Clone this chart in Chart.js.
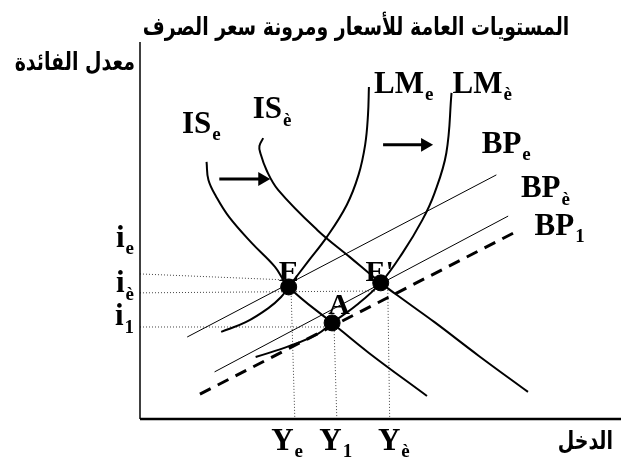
<!DOCTYPE html>
<html>
<head>
<meta charset="utf-8">
<script src="https://cdn.jsdelivr.net/npm/chart.js@4"></script>
<style>body{margin:0;background:#fff}</style>
</head>
<body>
<canvas id="chart" width="621" height="458"></canvas>
<script>
// units: x = income (0-100), y = interest rate (0-100)
const isEX = [14.1, 14.5, 16.2, 18.9, 23.7, 28.6, 31.5, 40.7, 48.5, 60.8];
const isEY = [69.3, 64.4, 59.8, 54.4, 47.4, 41.0, 35.6, 25.9, 17.8, 6.2];

const isPX = [26.1, 25.3, 25.5, 26.8, 29.3, 37.6, 44.4, 51.0, 56.2, 62.4, 71.8, 82.2];
const isPY = [75.7, 73.6, 71.7, 67.1, 61.7, 50.9, 43.7, 36.7, 31.8, 26.1, 17.0, 7.3];

const lmEX = [17.2, 22.4, 27.2, 29.9, 31.5, 35.5, 39.6, 43.8, 46.3, 47.7, 48.3, 48.5];
const lmEY = [23.5, 26.1, 29.9, 32.9, 35.6, 42.3, 49.1, 57.7, 65.8, 73.9, 81.9, 89.5];

const lmPX = [24.5, 31.7, 37.6, 40.7, 45.9, 51.0, 55.6, 59.8, 62.4, 64.9, 66.0];
const lmPY = [16.7, 19.7, 22.9, 25.9, 30.7, 36.7, 44.7, 53.6, 60.9, 71.7, 87.9];

// BP lines (two end points each)
const bpEX = [10.0, 75.5];
const bpEY = [22.1, 65.8];
const bpPX = [15.8, 78.0];
const bpPY = [12.7, 54.7];
const bp1X = [12.7, 80.3];
const bp1Y = [6.7, 50.9];

// equilibrium points E, A, E'
const eqNames = ['E', 'A', "E'"];
const eqX = [31.5, 40.7, 51.0];
const eqY = [35.6, 25.9, 36.7];

// dotted guides to the axes
const iLevelY0 = [39.1, 34.0, 24.8];
const iLevelY1 = [37.5, 34.5, 24.8];
const iLevelX1 = [30.7, 50.0, 40.2];
const yLevelX0 = [32.0, 41.1, 52.5];
const yLevelX1 = [32.8, 41.7, 52.9];
const yLevelTop = [34.8, 25.3, 34.8];

// shift arrows
const arrow1X = [16.8, 25.9];
const arrow1Y = [64.7, 64.7];
const arrow2X = [51.5, 60.4];
const arrow2Y = [73.9, 73.9];

// tick labels
const iTicks = [['i', 'e'], ['i', 'è'], ['i', '1']];
const iTickY = [46.4, 34.2, 25.3];
const yTicks = [['Y', 'e'], ['Y', '1'], ['Y', 'è']];
const yTickX = [27.8, 38.0, 50.4];

// curve labels
const curveNames = [['IS', 'e'], ['IS', 'è'], ['LM', 'e'], ['LM', 'è'], ['BP', 'e'], ['BP', 'è'], ['BP', '1']];
const curveLabX = [8.9, 23.9, 49.6, 66.2, 72.4, 80.7, 83.6];
const curveLabY = [77.1, 81.1, 87.9, 87.9, 71.7, 59.8, 49.6];

const titleText = 'المستويات العامة للأسعار ومرونة سعر الصرف';
const yAxisTitle = 'معدل الفائدة';
const xAxisTitle = 'الدخل';

function pts(xs, ys) {
  return xs.map((x, i) => ({ x: x, y: ys[i] }));
}

const curve = (data) => ({ data: data, borderColor: '#000', borderWidth: 2, pointRadius: 0, tension: 0.4, showLine: true, fill: false });
const thin = (data) => ({ data: data, borderColor: '#000', borderWidth: 1, pointRadius: 0, showLine: true, fill: false });
const dotted = (data) => ({ data: data, borderColor: '#444', borderWidth: 1, borderDash: [1, 2], pointRadius: 0, showLine: true, fill: false });
const arrow = (data) => ({
  data: data, borderColor: '#000', backgroundColor: '#000', borderWidth: 3, showLine: true,
  pointRadius: [0, 8], pointStyle: 'triangle', pointRotation: 90, pointBorderWidth: 0
});

const datasets = [
  { data: pts(eqX, eqY), backgroundColor: '#000', borderColor: '#000', pointRadius: 8, showLine: false },
  curve(pts(isEX, isEY)),
  curve(pts(isPX, isPY)),
  curve(pts(lmEX, lmEY)),
  curve(pts(lmPX, lmPY)),
  thin(pts(bpEX, bpEY)),
  thin(pts(bpPX, bpPY)),
  { data: pts(bp1X, bp1Y), borderColor: '#000', borderWidth: 3, borderDash: [12, 8], pointRadius: 0, showLine: true },
  arrow(pts(arrow1X, arrow1Y)),
  arrow(pts(arrow2X, arrow2Y))
];
for (let i = 0; i < 3; i++) {
  datasets.push(dotted([{ x: 0, y: iLevelY0[i] }, { x: iLevelX1[i], y: iLevelY1[i] }]));
  datasets.push(dotted([{ x: yLevelX0[i], y: yLevelTop[i] }, { x: yLevelX1[i], y: 0 }]));
}

const serif = '"Liberation Serif", "Times New Roman", serif';
const arabic = '"DejaVu Sans", sans-serif';
const LAB = 31;

function subText(ctx, main, sub, x, y, size) {
  ctx.textAlign = 'left';
  ctx.textBaseline = 'alphabetic';
  ctx.font = 'bold ' + size + 'px ' + serif;
  ctx.fillText(main, x, y);
  const w = ctx.measureText(main).width;
  ctx.font = 'bold ' + Math.round(size * 0.62) + 'px ' + serif;
  ctx.fillText(sub, x + w + 1, y + size * 0.24);
}

function subWidth(ctx, main, sub, size) {
  ctx.font = 'bold ' + size + 'px ' + serif;
  const w = ctx.measureText(main).width;
  ctx.font = 'bold ' + Math.round(size * 0.62) + 'px ' + serif;
  return w + 1 + ctx.measureText(sub).width;
}

// Arabic text, drawn a bit taller than DejaVu's natural shape
function arabicText(ctx, text, x, y, size, align) {
  ctx.save();
  ctx.font = 'bold ' + size + 'px ' + arabic;
  ctx.textAlign = align;
  ctx.textBaseline = 'alphabetic';
  ctx.translate(x, y);
  ctx.scale(1, 1.3);
  ctx.fillText(text, 0, 0);
  ctx.restore();
}

const textPlugin = {
  id: 'texts',
  beforeDatasetsDraw(chart) {
    // point letters sit behind the dots
    const ctx = chart.ctx, xs = chart.scales.x, ys = chart.scales.y;
    const offs = [[0, -6], [7, -9], [-1, -2]];
    ctx.save();
    ctx.fillStyle = '#000';
    ctx.font = 'bold 30px ' + serif;
    ctx.textAlign = 'center';
    ctx.textBaseline = 'alphabetic';
    eqNames.forEach((n, i) => {
      ctx.fillText(n, xs.getPixelForValue(eqX[i]) + offs[i][0], ys.getPixelForValue(eqY[i]) + offs[i][1]);
    });
    ctx.restore();
  },
  afterDraw(chart) {
    const ctx = chart.ctx, xs = chart.scales.x, ys = chart.scales.y, a = chart.chartArea;
    ctx.save();
    ctx.strokeStyle = '#000';
    ctx.fillStyle = '#000';
    // axes
    ctx.lineWidth = 1.5;
    ctx.beginPath();
    ctx.moveTo(a.left, a.top - 6);
    ctx.lineTo(a.left, a.bottom);
    ctx.stroke();
    ctx.lineWidth = 2.5;
    ctx.beginPath();
    ctx.moveTo(a.left, a.bottom);
    ctx.lineTo(chart.width, a.bottom);
    ctx.stroke();

    // title, fitted to the width it has in the original
    ctx.font = 'bold 20px ' + arabic;
    const tsize = Math.min(24, 20 * 427 / ctx.measureText(titleText).width);
    arabicText(ctx, titleText, 356, 35, tsize.toFixed(1), 'center');
    arabicText(ctx, yAxisTitle, a.left - 5, 70, 19, 'right');
    arabicText(ctx, xAxisTitle, chart.width - 8, 449, 19, 'right');

    // curve labels
    curveNames.forEach((c, i) => {
      subText(ctx, c[0], c[1], xs.getPixelForValue(curveLabX[i]), ys.getPixelForValue(curveLabY[i]), LAB);
    });
    // interest-rate tick labels
    iTicks.forEach((t, i) => {
      const w = subWidth(ctx, t[0], t[1], LAB);
      subText(ctx, t[0], t[1], a.left - 6 - w, ys.getPixelForValue(iTickY[i]), LAB);
    });
    // income tick labels
    yTicks.forEach((t, i) => {
      subText(ctx, t[0], t[1], xs.getPixelForValue(yTickX[i]), a.bottom + 31, LAB);
    });
    ctx.restore();
  }
};

new Chart(document.getElementById('chart'), {
  type: 'scatter',
  data: { datasets: datasets },
  options: {
    responsive: false,
    animation: false,
    layout: { padding: { left: 140, right: 0, top: 48, bottom: 39 } },
    scales: {
      x: { type: 'linear', min: 0, max: 100, display: false },
      y: { type: 'linear', min: 0, max: 100, display: false }
    },
    plugins: { legend: { display: false }, tooltip: { enabled: false } }
  },
  plugins: [textPlugin]
});
</script>
</body>
</html>
